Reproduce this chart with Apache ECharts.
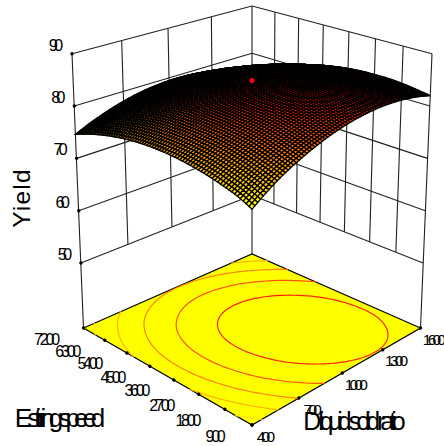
<!DOCTYPE html>
<html><head><meta charset="utf-8">
<style>
html,body{margin:0;padding:0;background:#fff}
#c{width:444px;height:446px}
#c text[style*="16px"]{letter-spacing:-3.2px}
#c text[style*="16.5px"]{letter-spacing:-4px}
#c text[style*="15.5px"]{letter-spacing:-3.8px}
#c text[style*="26px"]{letter-spacing:-6px}
#c text[style*="25px"]{letter-spacing:-5px}
#c text[style*="24.5px"]{letter-spacing:1.2px}
</style>
<script src="https://cdn.jsdelivr.net/npm/echarts@6/dist/echarts.min.js"></script>
</head><body><div id="c"></div>
<script>
const E_TICKS=[900,1800,2700,3600,4500,5400,6300,7200];
const D_TICKS=[40,70,100,130,160];
const D_LABELS=['400','700','1000','1300','1600']; // as the crushed labels read in the picture
const Z_TICKS=[50,60,70,80,90];
const E_GRID=[900,1350,1800,2250,2700,3150,3600,4050,4500,4950,5400,5850,6300,6750,7200];
const D_GRID=[40,55,70,85,100,115,130,145,160];
// Yield, one row per stirring speed, one value per D_GRID entry
const y900 =[74.20,77.34,79.64,81.39,82.60,83.27,83.39,82.97,82.00];
const y1350=[75.42,78.20,80.44,82.14,83.29,83.90,83.96,83.48,82.46];
const y1800=[76.20,78.93,81.11,82.75,83.85,84.40,84.41,83.87,82.79];
const y2250=[76.85,79.52,81.65,83.23,84.27,84.76,84.71,84.12,82.98];
const y2700=[77.34,79.95,82.02,83.54,84.53,84.96,84.86,84.20,83.01];
const y3150=[77.70,80.25,82.27,83.73,84.66,85.03,84.87,84.16,82.91];
const y3600=[77.92,80.42,82.37,83.78,84.65,84.97,84.75,83.99,82.68];
const y4050=[78.00,80.44,82.34,83.69,84.50,84.77,84.49,83.67,82.30];
const y4500=[77.94,80.32,82.16,83.46,84.21,84.42,84.08,83.20,81.78];
const y4950=[77.73,80.06,81.84,83.08,83.78,83.93,83.54,82.60,81.12];
const y5400=[77.39,79.66,81.39,82.57,83.21,83.30,82.85,81.86,80.32];
const y5850=[76.90,79.11,80.78,81.90,82.49,82.52,82.02,80.96,79.37];
const y6300=[76.28,78.43,80.05,81.11,81.64,81.61,81.05,79.94,78.29];
const y6750=[75.51,77.61,79.16,80.17,80.64,80.56,79.94,78.78,77.07];
const y7200=[74.60,76.64,78.14,79.09,79.50,79.37,78.69,77.47,75.70];
const CONTOUR_LEVELS=[75.6,77.6,79.6,81.6,83.5];
const DESIGN_POINT=[4050,100,84.9];

const rows=[y900,y1350,y1800,y2250,y2700,y3150,y3600,y4050,y4500,y4950,y5400,y5850,y6300,y6750,y7200];
const E_SUB=5,D_SUB=9;
const NE=(E_GRID.length-1)*E_SUB,ND=(D_GRID.length-1)*D_SUB;
function fineE(fi){return E_GRID[0]+(E_GRID[E_GRID.length-1]-E_GRID[0])*fi/NE}
function fineD(fj){return D_GRID[0]+(D_GRID[D_GRID.length-1]-D_GRID[0])*fj/ND}
// display mesh between the read values: Catmull-Rom blend for a smooth drawn sheet
function cr(a,b,c,d,t){return b+0.5*t*(c-a+t*(2*a-5*b+4*c-d+t*(3*(b-c)+d-a)))}
function ghost(arr,k){const n=arr.length;
  if(k<0)return 3*arr[0]-3*arr[1]+arr[2];
  if(k>=n)return 3*arr[n-1]-3*arr[n-2]+arr[n-3];
  return arr[k];}
function blend(arr,f,sub){const i=Math.min(Math.floor(f/sub),arr.length-2),t=f/sub-i;
  return cr(ghost(arr,i-1),arr[i],arr[i+1],ghost(arr,i+2),t);}
const fine=[];
const along=rows.map(r=>{const o=[];for(let fj=0;fj<=ND;fj++)o.push(blend(r,fj,D_SUB));return o;});
for(let fi=0;fi<=NE;fi++){const r=[];
  for(let fj=0;fj<=ND;fj++)r.push(blend(along.map(o=>o[fj]),fi,E_SUB));
  fine.push(r);}

// perspective of the box
const Y_FLOOR=37.58,H_UNIT=0.019075;
function project(E,D,Y){
  const u=(E-900)/6300,v=(D-40)/120,s=v-u,t=u+v-1,h=(Y-Y_FLOOR)*H_UNIT;
  const dy=1+0.1345*t,dx=dy-0.0639*h;
  return [252+168.5*s/dx,(328-39.84*t-274.3*h-7.05*t*h)/dy];
}
const EMIN=E_TICKS[0],EMAX=E_TICKS[7],DMIN=D_TICKS[0],DMAX=D_TICKS[4],ZMIN=Z_TICKS[0],ZMAX=Z_TICKS[4];
function colorOf(Y){const k=Math.max(0,Math.min(1,(Y-74.5)/(85-74.5)));return 'rgb(255,'+Math.round(255*(1-k))+',0)'}

// wall lines
const wallLines=[];
Z_TICKS.forEach(z=>{wallLines.push([[EMAX,DMIN,z],[EMAX,DMAX,z]]);wallLines.push([[EMAX,DMAX,z],[EMIN,DMAX,z]]);});
D_TICKS.forEach(d=>{const low=(d===DMIN||d===DMAX)?Y_FLOOR:ZMIN;wallLines.push([[EMAX,d,low],[EMAX,d,ZMAX]]);});
E_TICKS.forEach(e=>{if(e!==EMAX){const low=(e===EMIN)?Y_FLOOR:ZMIN;wallLines.push([[e,DMAX,low],[e,DMAX,ZMAX]]);}});
const pathOf=(api,pts)=>pts.map(p=>api.coord(project(p[0],p[1],p[2])));
// marching squares on the floor
function contourSegs(level){const segs=[];
  const cross=(e1,d1,y1,e2,d2,y2)=>{const k=(level-y1)/(y2-y1);return [e1+(e2-e1)*k,d1+(d2-d1)*k]};
  for(let i=0;i<NE;i++)for(let j=0;j<ND;j++){
    const E0=fineE(i),E1=fineE(i+1),D0=fineD(j),D1=fineD(j+1),a=fine[i][j],b=fine[i+1][j],c=fine[i+1][j+1],d=fine[i][j+1],p=[];
    if((a-level)*(b-level)<0)p.push(cross(E0,D0,a,E1,D0,b));
    if((b-level)*(c-level)<0)p.push(cross(E1,D0,b,E1,D1,c));
    if((c-level)*(d-level)<0)p.push(cross(E1,D1,c,E0,D1,d));
    if((d-level)*(a-level)<0)p.push(cross(E0,D1,d,E0,D0,a));
    if(p.length===2)segs.push(p);
    else if(p.length===4){segs.push([p[0],p[1]]);segs.push([p[2],p[3]]);}
  }return segs;}
// surface cells, back to front
const cells=[];
for(let i=NE-1;i>=0;i--)for(let j=ND-1;j>=0;j--)cells.push([i,j]);

const labels=[];
Z_TICKS.forEach(z=>labels.push({pos:[EMAX,DMIN,z],dx:-18,dy:-9,text:String(z),font:'16.5px "Liberation Sans"'}));
E_TICKS.forEach(e=>labels.push({pos:[e,DMIN,Y_FLOOR],dx:-38,dy:11,text:String(e),font:'16px "Liberation Sans"'}));
D_TICKS.forEach((d,k)=>labels.push({pos:[EMIN,d,Y_FLOOR],dx:12,dy:11,text:D_LABELS[k],font:'15.5px "Liberation Sans"'}));
const tickDots=[];
Z_TICKS.forEach(z=>tickDots.push([EMAX,DMIN,z]));
E_TICKS.forEach(e=>tickDots.push([e,DMIN,Y_FLOOR]));
D_TICKS.forEach(d=>tickDots.push([EMIN,d,Y_FLOOR]));
const floorEdges=[[EMAX,DMIN],[EMIN,DMIN],[EMIN,DMAX],[EMAX,DMAX]];
const axisTitles=[
  {text:'Yield',x:21,y:198,rot:Math.PI/2,font:'24.5px "Liberation Sans"'},
  {text:'E stirring speed',x:57,y:418,rot:0,font:'26px "Liberation Sans"'},
  {text:'D liquid solid ratio',x:352,y:421,rot:0,font:'25px "Liberation Sans"'}];

function custom(z,data,render){return {type:'custom',coordinateSystem:'cartesian2d',z,clip:false,silent:true,animation:false,progressive:0,data:data.map((_,k)=>[k,k]),renderItem:render};}
const series=[
 custom(1,wallLines,(p,api)=>{const a=pathOf(api,wallLines[p.dataIndex]);
   return {type:'line',shape:{x1:a[0][0],y1:a[0][1],x2:a[1][0],y2:a[1][1]},style:{stroke:'#222',lineWidth:1.1}};}),
 custom(2,[0],(p,api)=>({type:'polygon',shape:{points:pathOf(api,floorEdges.map(c=>[c[0],c[1],Y_FLOOR]))},style:{fill:'#ffff00',stroke:'#000',lineWidth:1.2}})),
 custom(3,CONTOUR_LEVELS,(p,api)=>{const L=CONTOUR_LEVELS[p.dataIndex];let d='';
   contourSegs(L).forEach(s=>{const q=pathOf(api,[[s[0][0],s[0][1],Y_FLOOR],[s[1][0],s[1][1],Y_FLOOR]]);
     d+='M'+q[0][0].toFixed(2)+' '+q[0][1].toFixed(2)+'L'+q[1][0].toFixed(2)+' '+q[1][1].toFixed(2);});
   return {type:'path',shape:{pathData:d},style:{fill:'none',stroke:colorOf(L),lineWidth:1.2,lineCap:'round'}};}),
 custom(4,tickDots,(p,api)=>{const c=pathOf(api,[tickDots[p.dataIndex]])[0];
   return {type:'circle',shape:{cx:c[0],cy:c[1],r:1.7},style:{fill:'#000'}};}),
 custom(5,cells,(p,api)=>{const [i,j]=cells[p.dataIndex];
   const pts=[[i,j],[i+1,j],[i+1,j+1],[i,j+1]].map(q=>api.coord(project(fineE(q[0]),fineD(q[1]),fine[q[0]][q[1]])));
   const m=(fine[i][j]+fine[i+1][j]+fine[i+1][j+1]+fine[i][j+1])/4;
   return {type:'polygon',shape:{points:pts},style:{fill:colorOf(m),stroke:'#000',lineWidth:1.3}};}),
 custom(6,[0],(p,api)=>{const c=pathOf(api,[DESIGN_POINT])[0];
   return {type:'circle',shape:{cx:c[0],cy:c[1],r:2.6},style:{fill:'#ff0000'}};}),
 custom(7,labels,(p,api)=>{const l=labels[p.dataIndex],c=pathOf(api,[l.pos])[0];
   return {type:'text',style:{text:l.text,x:c[0]+l.dx,y:c[1]+l.dy,font:l.font,fill:'#000',align:'center',verticalAlign:'middle'}};}),
 custom(8,axisTitles,(p,api)=>{const t=axisTitles[p.dataIndex];
   return {type:'text',x:t.x,y:t.y,rotation:t.rot,style:{text:t.text,x:0,y:0,font:t.font,fill:'#000',align:'center',verticalAlign:'middle'}};})
];
const chart=echarts.init(document.getElementById('c'),null,{renderer:'svg',width:444,height:446});
chart.setOption({animation:false,backgroundColor:'#fff',
  grid:{left:0,right:0,top:0,bottom:0,containLabel:false},
  xAxis:{type:'value',min:0,max:444,show:false},
  yAxis:{type:'value',min:0,max:446,inverse:true,show:false},
  tooltip:{show:false},series});
</script></body></html>
